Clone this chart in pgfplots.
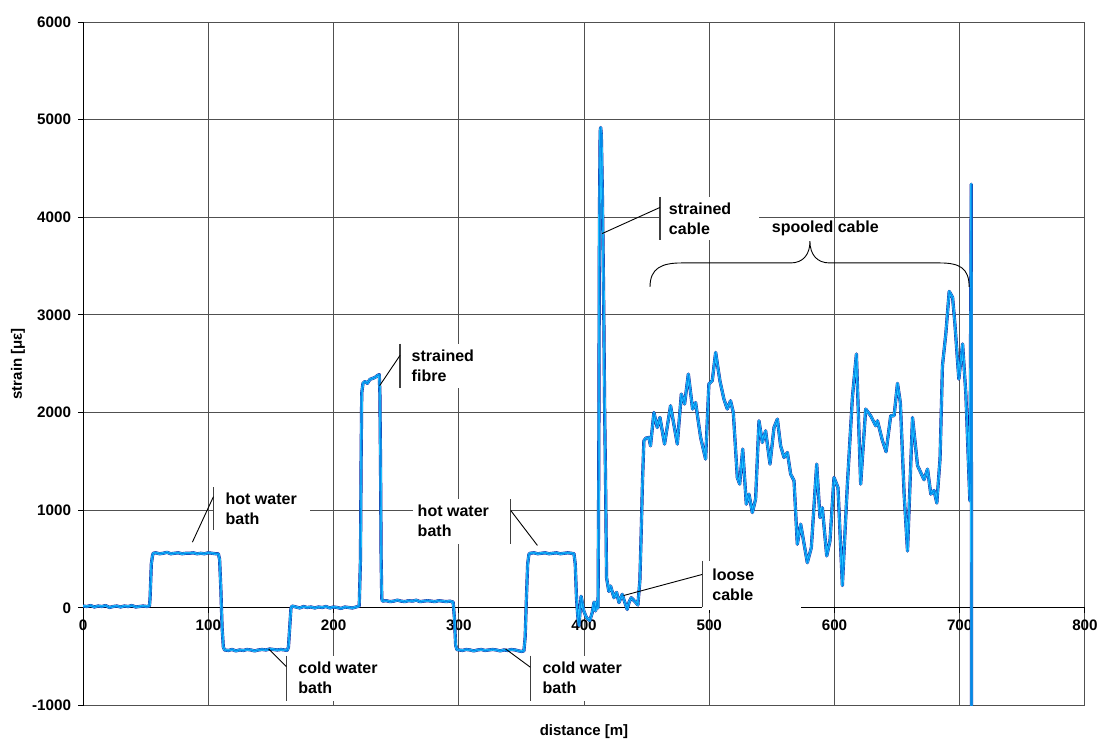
\documentclass[border=0pt]{standalone}
\usepackage{pgfplots}
\pgfplotsset{compat=1.18}
\usepackage{pgfplotstable}
\usepackage{fontspec}
\setmainfont{Liberation Sans}

\definecolor{traceNavy}{RGB}{20,20,150}
\definecolor{traceCyan}{RGB}{40,200,255}
\definecolor{traceBlue}{RGB}{0,140,235}
\definecolor{gridgray}{RGB}{80,80,80}

% Brillouin strain profile along the sensing fibre
\pgfplotstableread{
x y
0 20
3 15
6 25
9 10
12 20
15 15
18 25
21 5
24 15
27 20
30 10
33 20
36 15
39 25
42 10
45 15
48 20
51 15
53 20
53.5 100
54.5 450
55.5 540
56 560
58 565
61 555
64 560
67 570
70 555
73 560
76 565
79 555
82 560
85 560
88 565
91 555
94 560
97 555
100 565
103 560
106 555
108 555
109 500
110 200
111 -200
112 -400
113 -430
116 -435
119 -425
122 -440
125 -430
128 -435
131 -425
134 -430
137 -440
140 -430
143 -425
146 -430
149 -420
152 -425
155 -430
158 -425
161 -430
163 -435
164 -400
165 -200
166 0
167 20
170 10
173 0
176 15
179 5
182 10
185 0
188 10
191 5
194 15
197 0
200 10
203 5
206 -5
209 10
212 5
215 0
218 10
220.5 20
221.5 500
222 1500
222.5 2200
223.5 2300
225 2320
227 2300
229 2340
231 2350
233 2360
235 2380
236.5 2390
237 2200
237.5 1500
238 500
238.5 100
239 70
242 75
245 65
248 70
251 80
254 70
257 65
260 75
263 70
266 80
269 65
272 70
275 75
278 70
281 65
284 75
287 70
290 65
293 70
295.5 60
296.5 -100
297.5 -380
298.5 -425
300 -430
303 -435
306 -425
309 -430
312 -440
315 -430
318 -425
321 -435
324 -430
327 -425
330 -430
333 -440
336 -430
339 -435
342 -425
345 -430
348 -440
350 -445
352 -440
353 -300
354 100
355 450
356 550
357 560
360 565
363 555
366 560
369 565
372 555
375 560
378 565
381 555
384 560
387 565
390 560
392 555
393 450
394 100
395 -80
396 -180
397.7 120
399.8 -30
402 -100
404.6 -130
406.5 -50
408 60
409.2 -30
410.5 70
411.2 0
411.8 1500
412.3 4000
412.9 4880
413.3 4920
413.8 4850
414.6 4300
415.3 3600
415.8 3000
416.5 2000
417.2 1300
418 310
419.8 170
421.2 225
423.9 105
426 160
427.9 55
430.5 140
432.5 60
434.5 -15
436 60
437.7 105
440.4 70
443 30
444.6 280
445.7 790
446.7 1300
447.8 1712
449.5 1740
451.8 1746
453.1 1660
455.8 2002
458.5 1848
460.6 1951
464.3 1678
469.1 2071
474.5 1678
477.7 2190
480.3 2088
483.3 2395
486.7 2037
489.1 2104
493.1 1746
497.1 1524
499.7 2293
502.4 2327
505.1 2617
508.5 2327
511.7 2139
514.4 2037
517 2122
519.2 2002
522.4 1336
524.3 1268
526.7 1627
529.6 1063
531.7 1166
534.4 977
537 1114
539.7 1917
542.4 1695
545 1814
548.5 1473
551.7 1848
554.4 1934
557 1660
559.7 1541
562.4 1592
565 1370
567.7 1302
570.3 653
573 858
578.3 464
581.5 618
585.8 1473
588.4 926
590.3 1028
593.8 533
596.4 687
599.6 1336
602.8 1233
606.3 230
610.3 1268
614.3 2156
617.5 2600
620.9 1268
624.9 2037
628.9 1968
632.9 1866
634.3 1917
638.3 1712
641.2 1600
644.9 1969
647.6 1969
650.3 2300
652.6 2100
655.6 1166
658.3 583
662.3 1950
666.3 1458
668.9 1386
671.5 1313
674.3 1422
676.9 1166
679.5 1203
681.7 1075
684.3 1531
686.2 2480
688.9 2808
691.6 3242
694.3 3180
696.1 2918
699.3 2344
702.3 2703
704.9 2190
708.1 1097
709.2 4340
709.5 -3000
}\straindata

\tikzset{
  calloutbar/.style={black!75, line width=0.6pt},
  leader/.style={black, line width=0.45pt},
  callouttext/.style={font=\fontsize{8}{10}\selectfont\bfseries, align=left, inner sep=0pt},
}

\begin{document}
\begin{tikzpicture}
\useasboundingbox (-41.5pt,-16.5pt) rectangle (508pt,352.5pt);
\begin{axis}[
  at={(0,0)}, anchor=south west,
  scale only axis, width=500.5pt, height=341.5pt,
  xmin=0, xmax=800, ymin=-1000, ymax=6000,
  axis x line=middle, axis y line=left,
  axis line style={-, black, line width=0.5pt},
  xtick={0,100,...,800}, ytick={-1000,0,...,6000},
  grid=major, major grid style={gridgray, line width=0.5pt},
  tick align=outside, major tick length=2.5pt,
  tick style={black, line width=0.5pt},
  hide obscured x ticks=false, hide obscured y ticks=false,
  scaled ticks=false,
  /pgf/number format/assume math mode=true,
  /pgf/number format/1000 sep={},
  tick label style={font=\fontsize{7.6}{9}\selectfont\bfseries},
  xlabel={distance [m]}, ylabel={strain [με]},
  label style={font=\fontsize{7.5}{9}\selectfont\bfseries},
  xlabel style={at={(axis description cs:0.5,-0.0439)}, anchor=base},
  ylabel style={at={(axis description cs:-0.065,0.5)}, anchor=center},
]
\addplot[traceNavy, line width=1.6pt, line join=round] table {\straindata};
\addplot[traceCyan, line width=1.2pt, line join=round] table {\straindata};
\addplot[traceBlue, line width=0.55pt, line join=round] table {\straindata};

% hot water bath (first)
\fill[white] (axis cs:104.1,1237) rectangle (axis cs:181.4,794);
\draw[calloutbar] (axis cs:104.1,1237) -- (axis cs:104.1,794);
\draw[leader] (axis cs:104.1,1140) -- (axis cs:87.3,674);
\node[callouttext, anchor=west] at (axis cs:113.5,1016) {hot water\\bath};

% cold water bath (first)
\fill[white] (axis cs:162.2,-487.5) rectangle (axis cs:245.4,-948.7);
\draw[calloutbar] (axis cs:162.2,-487.5) -- (axis cs:162.2,-948.7);
\draw[leader] (axis cs:162.2,-600) -- (axis cs:148.1,-419);
\node[callouttext, anchor=west] at (axis cs:171.6,-718) {cold water\\bath};

% strained fibre
\fill[white] (axis cs:253.1,2707) rectangle (axis cs:313.3,2256);
\draw[calloutbar] (axis cs:253.1,2707) -- (axis cs:253.1,2256);
\draw[leader] (axis cs:253.1,2587) -- (axis cs:236.8,2276);
\node[callouttext, anchor=west] at (axis cs:262.1,2481) {strained\\fibre};

% hot water bath (second), bar on the right
\fill[white] (axis cs:263.7,1111) rectangle (axis cs:341.5,660);
\draw[calloutbar] (axis cs:341.5,1111) -- (axis cs:341.5,660);
\draw[leader] (axis cs:341.5,998) -- (axis cs:362.8,640);
\node[callouttext, anchor=west] at (axis cs:266.9,896) {hot water\\bath};

% cold water bath (second)
\fill[white] (axis cs:357.2,-487.5) rectangle (axis cs:441.2,-948.7);
\draw[calloutbar] (axis cs:357.2,-487.5) -- (axis cs:357.2,-948.7);
\draw[leader] (axis cs:357.2,-607) -- (axis cs:337.3,-419);
\node[callouttext, anchor=west] at (axis cs:366.6,-718) {cold water\\bath};

% loose cable
\fill[white] (axis cs:494.3,486) rectangle (axis cs:573,-16);
\draw[calloutbar] (axis cs:494.3,486) -- (axis cs:494.3,7.5);
\draw[leader] (axis cs:494.3,343) -- (axis cs:431.5,127);
\node[callouttext, anchor=west] at (axis cs:502.2,240) {loose\\cable};

% strained cable
\fill[white] (axis cs:460.6,4210) rectangle (axis cs:539.5,3766);
\draw[calloutbar] (axis cs:460.6,4210) -- (axis cs:460.6,3766);
\draw[leader] (axis cs:460.6,4101) -- (axis cs:414.5,3834);
\node[callouttext, anchor=west] at (axis cs:467.5,3988) {strained\\cable};

% spooled cable with its brace
\node[callouttext, anchor=center] at (axis cs:592.7,3889) {spooled cable};
\draw[leader] (axis cs:452.7,3287) .. controls (axis cs:452.7,3480) and (axis cs:462,3533) .. (axis cs:478,3533)
  -- (axis cs:565,3533) .. controls (axis cs:575,3533) and (axis cs:580.4,3620) .. (axis cs:580.4,3755)
  .. controls (axis cs:580.4,3620) and (axis cs:586,3533) .. (axis cs:596,3533)
  -- (axis cs:684,3533) .. controls (axis cs:700,3533) and (axis cs:707.5,3480) .. (axis cs:707.5,3287);
\end{axis}
\end{tikzpicture}
\end{document}
